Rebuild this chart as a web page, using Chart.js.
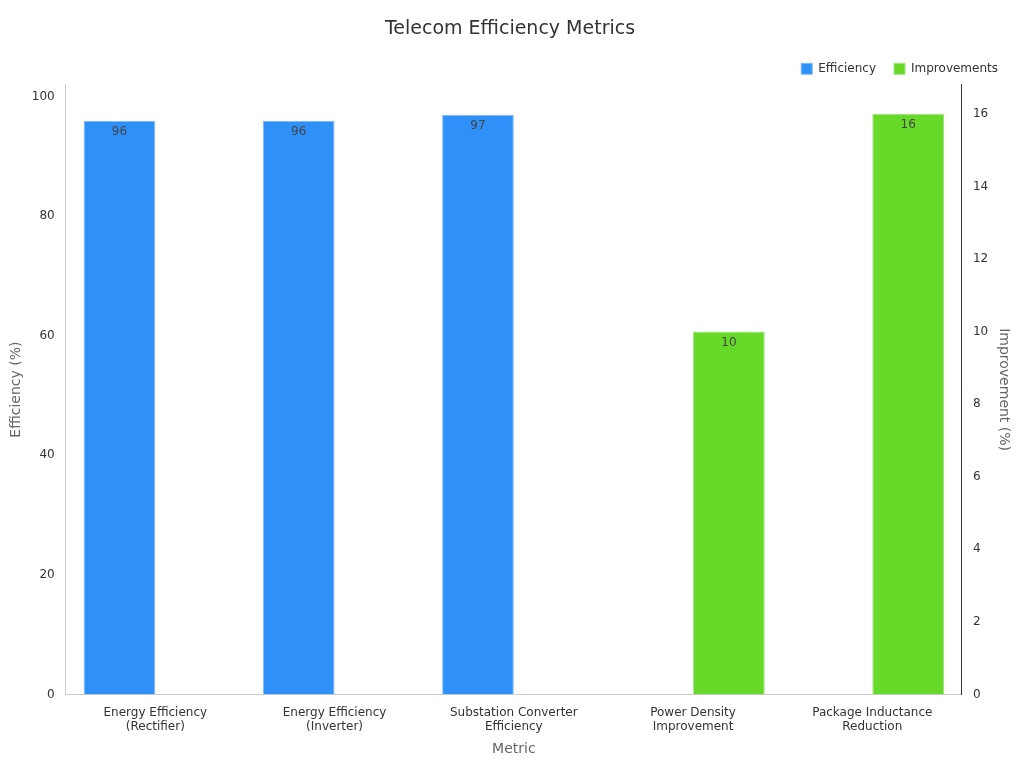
<!DOCTYPE html>
<html>
<head>
<meta charset="utf-8">
<script src="https://cdn.jsdelivr.net/npm/chart.js@4"></script>
<style>
  html, body { margin: 0; background: #fff; }
  #wrap { width: 1024px; height: 768px; }
</style>
</head>
<body>
<div id="wrap"><canvas id="chart"></canvas></div>
<script>
const CATEGORIES = [
  ['Energy Efficiency', '(Rectifier)'],
  ['Energy Efficiency', '(Inverter)'],
  ['Substation Converter', 'Efficiency'],
  ['Power Density', 'Improvement'],
  ['Package Inductance', 'Reduction']
];
const EFFICIENCY = [96, 96, 97, null, null];
const IMPROVEMENTS = [null, null, null, 10, 16];

const FONT = 'DejaVu Sans';

// Writes each bar's value just inside its top edge.
const valueLabels = {
  id: 'valueLabels',
  afterDatasetsDraw(chart) {
    const ctx = chart.ctx;
    ctx.save();
    ctx.font = `12px "${FONT}"`;
    ctx.fillStyle = '#444';
    ctx.textAlign = 'center';
    ctx.textBaseline = 'top';
    chart.data.datasets.forEach((ds, i) => {
      chart.getDatasetMeta(i).data.forEach((bar, j) => {
        const v = ds.data[j];
        if (v == null) return;
        ctx.fillText(Math.round(v), bar.x, bar.y + 5);
      });
    });
    ctx.restore();
  }
};

new Chart(document.getElementById('chart'), {
  type: 'bar',
  data: {
    labels: CATEGORIES,
    datasets: [
      {
        label: 'Efficiency',
        data: EFFICIENCY,
        yAxisID: 'y',
        backgroundColor: '#2f91f8',
        borderColor: '#7fbaf8',
        borderWidth: 1,
        categoryPercentage: 0.8,
        barPercentage: 1
      },
      {
        label: 'Improvements',
        data: IMPROVEMENTS,
        yAxisID: 'y1',
        backgroundColor: '#67d928',
        borderColor: '#9fe57a',
        borderWidth: 1,
        categoryPercentage: 0.8,
        barPercentage: 1
      }
    ]
  },
  options: {
    responsive: true,
    maintainAspectRatio: false,
    animation: false,
    layout: { padding: { left: 4, right: 8, top: 10, bottom: 6 } },
    plugins: {
      title: {
        display: true,
        text: 'Telecom Efficiency Metrics',
        color: '#333',
        font: { family: FONT, size: 19, weight: 'normal' },
        padding: { top: 8, bottom: 4 }
      },
      legend: {
        align: 'end',
        labels: {
          color: '#333',
          font: { family: FONT, size: 12 },
          boxWidth: 11,
          boxHeight: 11,
          padding: 18
        }
      },
      tooltip: { enabled: false }
    },
    scales: {
      x: {
        grid: { display: false },
        border: { color: '#ccc' },
        ticks: { color: '#333', font: { family: FONT, size: 12 }, maxRotation: 0 },
        title: { display: true, text: 'Metric', color: '#666', font: { family: FONT, size: 14 } }
      },
      y: {
        position: 'left',
        min: 0,
        max: 102,
        grid: { display: false },
        border: { color: '#ccc' },
        afterBuildTicks: axis => { axis.ticks = [0, 20, 40, 60, 80, 100].map(v => ({ value: v })); },
        ticks: { color: '#333', font: { family: FONT, size: 12 } },
        title: { display: true, text: 'Efficiency (%)', color: '#666', font: { family: FONT, size: 14 } }
      },
      y1: {
        position: 'right',
        min: 0,
        max: 16.8,
        grid: { display: false },
        border: { color: '#333' },
        afterBuildTicks: axis => { axis.ticks = [0, 2, 4, 6, 8, 10, 12, 14, 16].map(v => ({ value: v })); },
        ticks: { color: '#333', font: { family: FONT, size: 12 } },
        title: { display: true, text: 'Improvement (%)', color: '#666', font: { family: FONT, size: 14 } }
      }
    }
  },
  plugins: [valueLabels]
});
</script>
</body>
</html>
